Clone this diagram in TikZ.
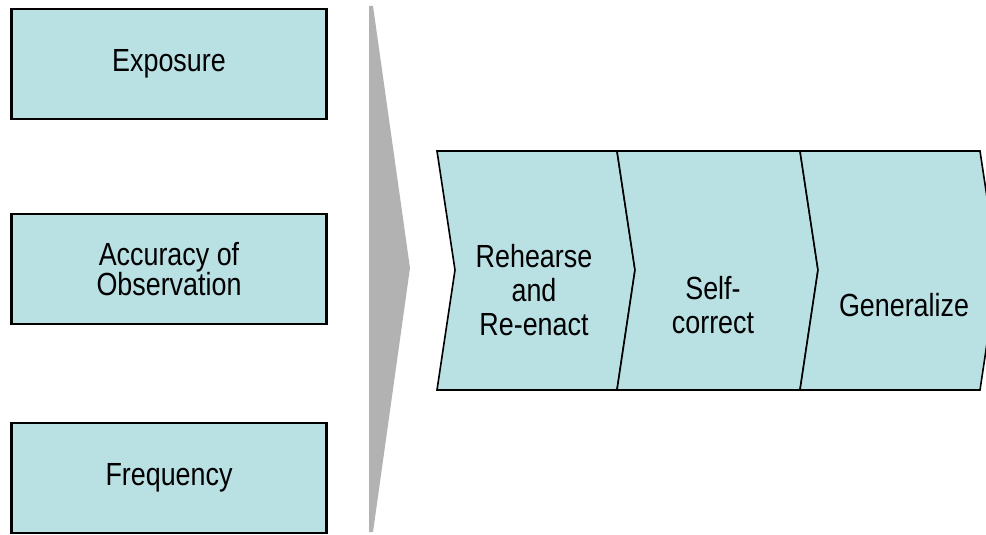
\documentclass[tikz,border=0pt]{standalone}
\usepackage{fontspec}
\setmainfont{Liberation Sans}[FakeStretch=0.84]
\definecolor{boxfill}{HTML}{B9E0E3}
\definecolor{arrowgray}{HTML}{B2B2B2}
\begin{document}
\begin{tikzpicture}[x=1pt,y=-1pt,
  factor/.style={draw=black,line width=2.2pt,fill=boxfill,minimum width=315pt,minimum height=110pt,inner sep=0pt,font=\fontsize{32}{30}\selectfont,align=center},
  chev/.style={draw=black,line width=1.6pt,fill=boxfill,line join=miter},
  lbl/.style={font=\fontsize{32}{34}\selectfont,align=center,inner sep=0pt}]
\useasboundingbox (0,0) rectangle (986,535);
\clip (0,0) rectangle (986,535);
% left boxes
\node[factor] (exp) at (169,64) {Exposure};
\node[factor] (acc) at (169,269) {Accuracy of\\Observation};
\node[factor] (freq) at (169,478) {Frequency};
% gray arrow
\fill[arrowgray] (369,6) -- (373,6) -- (410,268) -- (373,532) -- (369,532) -- cycle;
% chevrons
\draw[chev] (437,151) -- (617,151) -- (635,270) -- (617,390) -- (437,390) -- (455,270) -- cycle;
\draw[chev] (617,151) -- (800,151) -- (818,270) -- (800,390) -- (617,390) -- (635,270) -- cycle;
\draw[chev] (800,151) -- (980,151) -- (998,270) -- (980,390) -- (800,390) -- (818,270) -- cycle;
\node[lbl] (reh) at (534,290) {Rehearse\\and\\Re-enact};
\node[lbl] (self) at (713,305) {Self-\\correct};
\node[lbl] (gen) at (904,305) {Generalize};
\end{tikzpicture}
\end{document}
